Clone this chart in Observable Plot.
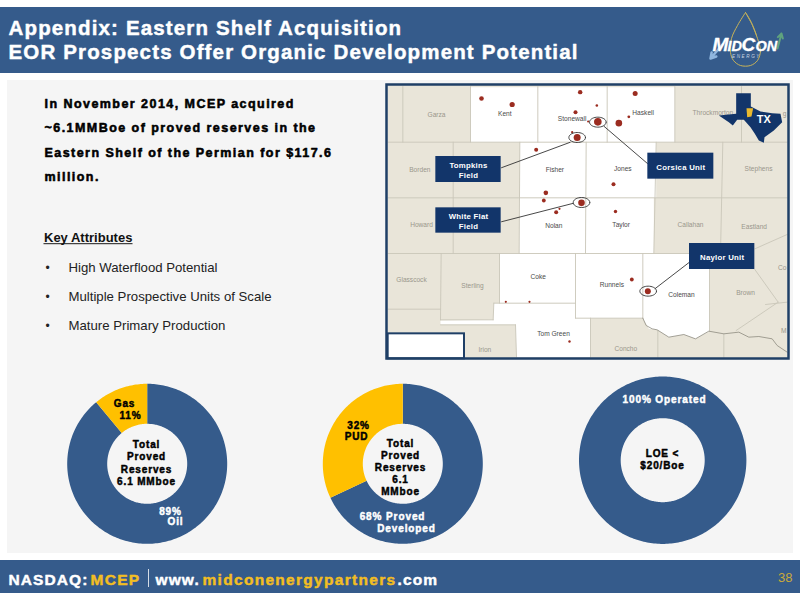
<!DOCTYPE html>
<html>
<head>
<meta charset="utf-8">
<script src="https://cdn.jsdelivr.net/npm/d3@7"></script>
<script src="https://cdn.jsdelivr.net/npm/@observablehq/plot@0.6"></script>
<style>html,body{margin:0;padding:0;background:#fff}svg{display:block}</style>
</head>
<body>
<div id="chart"></div>
<script>
const BLUE = "#355B8B", GOLD = "#FFC000", NAVY = "#12356A", TAN = "#E9E5D9", EDGE = "#C9C6B9";

// Donut values
const reservesByProduct = [["Oil", 89], ["Gas", 11]];
const reservesByCategory = [["Proved Developed", 68], ["PUD", 32]];
const operated = [["Operated", 100]];

// Slide text
const titleLines = [["Appendix: Eastern Shelf Acquisition", 8, 34], ["EOR Prospects Offer Organic Development Potential", 8, 58]];
const introLines = [["In November 2014, MCEP acquired", 44, 107.3], ["~6.1MMBoe of proved reserves in the", 44, 131.3], ["Eastern Shelf of the Permian for $117.6", 44, 156.3], ["million.", 44, 180.3]];
const attributes = [["High Waterflood Potential", 271], ["Multiple Prospective Units of Scale", 300], ["Mature Primary Production", 329]];
const darkDonutText = [["Gas",124,406.5],["11%",130,418],["Total",146,447],["Proved",146,459],["Reserves",146,472],["6.1 MMboe",146,484],
  ["32%",358,428.5],["PUD",356,439],["Total",400,446],["Proved",400,458],["Reserves",400,470],["6.1",400,482.5],["MMboe",400,494.5],
  ["LOE <",662,456],["$20/Boe",662,468]];
const lightDonutText = [["89%",170,514],["Oil",175,524],["68% Proved",392,519],["Developed",406,531],["100% Operated",664,402]];

// Map content, in map-picture units
const whiteCounties = [
  [[255,20],[457,20],[457,185],[255,185]], [[457,20],[665,20],[665,185],[457,185]], [[665,20],[868,20],[868,185],[665,185]],
  [[403,185],[602,185],[602,352],[403,352]], [[602,185],[812,185],[812,352],[602,352]],
  [[401,352],[600,352],[600,519],[401,519]], [[600,352],[805,352],[805,519],[600,519]],
  [[342,519],[570,519],[570,668],[325,668],[342,668]], [[570,519],[772,519],[772,713],[570,713]],
  [[772,519],[972,519],[972,752],[930,775],[895,762],[850,770],[815,748],[790,745],[772,713]],
  [[165,720],[323,718],[325,668],[570,668],[570,713],[615,713],[615,830],[393,830],[390,733],[165,733]]
];
const countyLines = [
  [[52,18],[52,185]],[[255,18],[255,185]],[[457,18],[457,185]],[[665,18],[665,185]],[[868,18],[868,185]],[[1068,18],[1068,185]],
  [[8,185],[1205,185]],[[203,185],[203,519]],[[403,185],[401,519]],[[602,185],[600,519]],[[812,185],[805,519]],[[1012,185],[1005,519]],
  [[8,352],[1205,352]],[[8,519],[912,519]],[[167,519],[165,718]],[[342,519],[342,668]],[[570,519],[570,713]],[[772,519],[772,713]],[[972,519],[972,752]],
  [[8,686],[165,686]],[[165,718],[323,718]],[[323,718],[325,668]],[[325,668],[570,668]],[[165,733],[390,733]],[[390,733],[393,830]],
  [[570,713],[772,713]],[[615,713],[615,830]],[[817,750],[817,830]],[[1015,760],[1015,830]],
  [[1108,505],[1205,462]],[[1108,567],[1178,665]],[[1178,665],[1052,750]],[[1140,672],[1205,665]]
];
const riverLine = [[772,713],[782,735],[800,745],[815,748],[850,770],[895,762],[930,775],[970,752],[1015,760],[1060,755],[1090,770],[1120,768],[1160,775],[1175,795],[1205,815]];
const darkCountyNames = [["Kent",358,106],["Stonewall",560,120],["Haskell",773,104],["Fisher",508,273],["Jones",712,271],["Nolan",505,442],["Taylor",707,440],["Coke",458,595],["Runnels",679,620],["Coleman",888,649],["Tom Green",504,766]];
const greyCountyNames = [["Garza",153,109],["Throckmorton",982,102],["Borden",103,274],["Stephens",1119,272],["Howard",108,439],["Callahan",915,440],["Eastland",1106,446],["Glasscock",78,605],["Sterling",261,622],["Brown",1080,643],["Irion",298,814],["Concho",721,812],["Co",1190,568],["M",1195,756],["g",1197,106]];
const fields = [[288,54,2.3],[380,72,2.6],[584,35,2.2],[749,39,2.5],[634,75,1.3],[570,95,2],[637,124,3.8],[700,128,3.3],[730,109,1.4],[575,171,3.5],[452,208,2],[560,155,1.1],[684,311,2],[481,337,2.3],[475,360,1.9],[588,367,3.3],[522,385,1.1],[512,395,2],[690,393,1.7],[739,597,1.9],[787,632,3],[361,664,1.1],[432,664,1.1],[552,783,1.2],[608,123,1.1]];
const rings = [[575,171],[637,125],[588,366],[788,632]];
const calloutBoxes = [[151,228,347,306],[787,218,985,296],[151,382,347,458],[912,489,1108,567]];
const calloutLeaders = [[347,262,555,185],[787,250,655,137],[347,424,565,368],[912,545,808,625]];
const calloutText = [["Tompkins",249,262],["Field",249,292],["Corsica Unit",886,267],["White Flat",249,415],["Field",249,445],["Naylor Unit",1010,537]];
const texasShape = [[1052,38],[1096,38],[1096,78],[1125,93],[1160,98],[1185,100],[1190,125],[1165,150],[1137,170],[1135,187],[1120,180],[1108,160],[1095,140],[1075,118],[1055,118],[1042,135],[1030,125],[1000,105],[1052,100]];
const panhandleMark = [[1083,83],[1103,83],[1098,108],[1085,110]];

// Logo (slide pixels)
const dropOutline = [[745,12],[737,25],[731,38],[730,52],[733,60],[740,65],[750,65],[757,60],[760,50],[757,38],[752,25],[745,12]];
const dropInner = [[745,12],[751,22],[756,35]];
const logoCaps = [["M",712],["C",741]];
const logoSmall = [["ID",727],["ON",755]];

// Footer runs
const footerWhite = [["NASDAQ:",8],["www.",155],[".com",397]];
const footerGold = [["MCEP",90],["midconenergypartners",202]];

// Helpers
const mx = v => 385 + v / 3, my = v => 80 + v / 3;
const toSlide = pts => pts.map(([a, b]) => ({x: mx(a), y: my(b)}));
const grouped = polys => polys.flatMap((p, i) => toSlide(p).map(q => ({...q, id: i})));
const base = {x: "x", y: "y", curve: "linear"};
function ring(cx, cy, R, r, a0, a1, id) {
  const n = Math.max(2, Math.ceil((a1 - a0) * 48));
  const t = d3.range(n + 1).map(i => a0 + (a1 - a0) * i / n);
  return [...t.map(a => ({x: cx + R * Math.sin(a), y: cy - R * Math.cos(a), id})),
          ...t.reverse().map(a => ({x: cx + r * Math.sin(a), y: cy - r * Math.cos(a), id}))];
}
function donut(rows, cx, cy, R, r, colors) {
  const arcs = d3.pie().sort(null).value(d => d[1])(rows);
  return arcs.map((a, i) => Plot.line(ring(cx, cy, R, r, a.startAngle, a.endAngle, i), {...base, fill: colors[i], stroke: "none"}));
}
const spacing = [];
const fontSans = "Liberation Sans";
function txt(rows, o, ls = 0) {
  spacing.push(ls);
  return Plot.text(rows, {x: "x", y: "y", text: "t", lineAnchor: "bottom", fontFamily: fontSans, ...o});
}
const rowsXY = rows => rows.map(([t, x, y]) => ({t, x, y}));
const named = rows => rows.map(([t, a, b]) => ({t, x: mx(a), y: my(b)}));
const ellipse = ([a, b], id) => d3.range(37).map(i => ({x: mx(a) + 8.3 * Math.cos(i * Math.PI / 18), y: my(b) + 5 * Math.sin(i * Math.PI / 18), id}));
const bold = (c, w = 0.45) => ({fontWeight: 700, fill: c, stroke: c, strokeWidth: w});
const box = {x1: d => d[0], y1: d => d[1], x2: d => d[2], y2: d => d[3]};
const mapBox = {x1: d => mx(d[0]), y1: d => my(d[1]), x2: d => mx(d[2]), y2: d => my(d[3])};

const marks = [
  // bands
  Plot.rect([[0,7,800,73],[0,560,800,593]], {...box, fill: BLUE}),
  Plot.rect([[7,80,793,553]], {...box, fill: "#F5F5F5"}),
  // map
  Plot.rect([[8,15,1208,835]], {...mapBox, fill: TAN}),
  Plot.line(grouped(whiteCounties), {...base, z: "id", fill: "#fff", stroke: "none"}),
  Plot.line(grouped(countyLines), {...base, z: "id", stroke: EDGE, strokeWidth: 0.9}),
  Plot.line(toSlide(riverLine), {...base, stroke: "#8E8C80", strokeWidth: 0.8}),
  txt(named(darkCountyNames), {fontSize: 6.6, fill: "#4a4a4a", textAnchor: "middle"}),
  txt(named(greyCountyNames), {fontSize: 6.6, fill: "#9A978C", textAnchor: "middle"}),
  Plot.dot(fields, {x: d => mx(d[0]), y: d => my(d[1]), r: d => d[2], fill: "#9B2C20", stroke: "none"}),
  Plot.line(rings.flatMap(ellipse), {...base, z: "id", stroke: "#333", strokeWidth: 0.9}),
  Plot.link(calloutLeaders, {...mapBox, stroke: "#333", strokeWidth: 0.9}),
  Plot.rect(calloutBoxes, {...mapBox, fill: NAVY}),
  Plot.line(toSlide(texasShape), {...base, fill: NAVY, stroke: "none"}),
  Plot.line(toSlide(panhandleMark), {...base, fill: "#E8B92E", stroke: "none"}),
  Plot.rect([[8,760,237,835]], {...mapBox, fill: "#fff", stroke: "#1F3F66", strokeWidth: 2}),
  Plot.rect([[386.5,84.5,788.5,358.5]], {...box, fill: "none", stroke: "#1F3F66", strokeWidth: 2.5}),
  txt(named(calloutText), {fontWeight: 700, fontSize: 7.8, fill: "#fff", textAnchor: "middle"}, 0.25),
  txt([{t: "TX", x: mx(1135), y: my(128)}], {fontWeight: 700, fontSize: 11, fill: "#fff", textAnchor: "middle"}),
  // donuts
  ...donut(reservesByProduct, 146.7, 463.3, 80, 40, [BLUE, GOLD]),
  ...donut(reservesByCategory, 402.3, 463.3, 80, 40, [BLUE, GOLD]),
  ...donut(operated, 662.2, 459.7, 83.7, 42, [BLUE]),
  // logo
  Plot.line(dropOutline, {x: d => d[0], y: d => d[1], curve: "catmull-rom", stroke: "#C9B458", strokeWidth: 1}),
  Plot.line(dropInner, {x: d => d[0], y: d => d[1], curve: "catmull-rom", stroke: "#C9B458", strokeWidth: 0.8}),
  Plot.arrow([[722,44,710,58]], {...box, stroke: "#8FB6DE", strokeWidth: 2.5, headLength: 6, bend: 0}),
  Plot.arrow([[777,48,781,33]], {...box, stroke: "#5FA37E", strokeWidth: 2, headLength: 5, bend: 0}),
  txt(logoCaps.map(([t, x]) => ({t, x, y: 50})), {...bold("#fff", 0.3), fontStyle: "italic", fontSize: 19, textAnchor: "start"}),
  txt(logoSmall.map(([t, x]) => ({t, x, y: 50})), {...bold("#fff", 0.3), fontStyle: "italic", fontSize: 14.5, textAnchor: "start"}),
  txt([{t: "ENERGY", x: 746, y: 57.5}], {fontStyle: "italic", fontSize: 4.6, fill: "#C8D4E0", textAnchor: "middle"}, 1.6),
  // rules beside text
  Plot.ruleX([148], {y1: 569, y2: 587, stroke: "#fff", strokeWidth: 0.8}),
  Plot.ruleY([243.2], {x1: 43.5, x2: 132.5, stroke: "#000", strokeWidth: 0.9}),
  // text
  txt(rowsXY(titleLines), {...bold("#fff"), fontSize: 20.5, textAnchor: "start"}, 1.15),
  txt(rowsXY(introLines), {...bold("#000", 0.55), fontSize: 12.5, textAnchor: "start"}, 1.45),
  txt([{t: "Key Attributes", x: 43.5, y: 241.5}], {fontWeight: 700, fill: "#111", fontSize: 13, textAnchor: "start"}),
  txt(attributes.map(([t, y]) => ({t: "•", x: 45, y})), {fontSize: 12, fill: "#222", textAnchor: "start"}),
  txt(attributes.map(([t, y]) => ({t, x: 68, y})), {fontSize: 13.2, fill: "#222", textAnchor: "start"}),
  txt(rowsXY(darkDonutText), {...bold("#000"), fontSize: 10, textAnchor: "middle"}, 0.85),
  txt(rowsXY(lightDonutText), {...bold("#fff"), fontSize: 10, textAnchor: "middle"}, 0.9),
  txt(footerWhite.map(([t, x]) => ({t, x, y: 584})), {...bold("#fff"), fontSize: 15.5, textAnchor: "start"}, 1.1),
  txt(footerGold.map(([t, x]) => ({t, x, y: 584})), {...bold("#F2BE22"), fontSize: 15.5, textAnchor: "start"}, 1.3),
  txt([{t: "38", x: 792, y: 581}], {fontSize: 13, fill: "#C9A93A", textAnchor: "end"})
];

const chart = Plot.plot({
  width: 800, height: 600, margin: 0,
  x: {domain: [0, 800], range: [0, 800], axis: null},
  y: {domain: [0, 600], range: [0, 600], axis: null},
  r: {type: "identity"},
  style: {background: "#fff"},
  marks
});
chart.querySelectorAll('g[aria-label="text"]').forEach((g, i) => {
  if (spacing[i]) g.style.letterSpacing = spacing[i] + "px";
});
document.getElementById("chart").append(chart);
</script>
</body>
</html>
